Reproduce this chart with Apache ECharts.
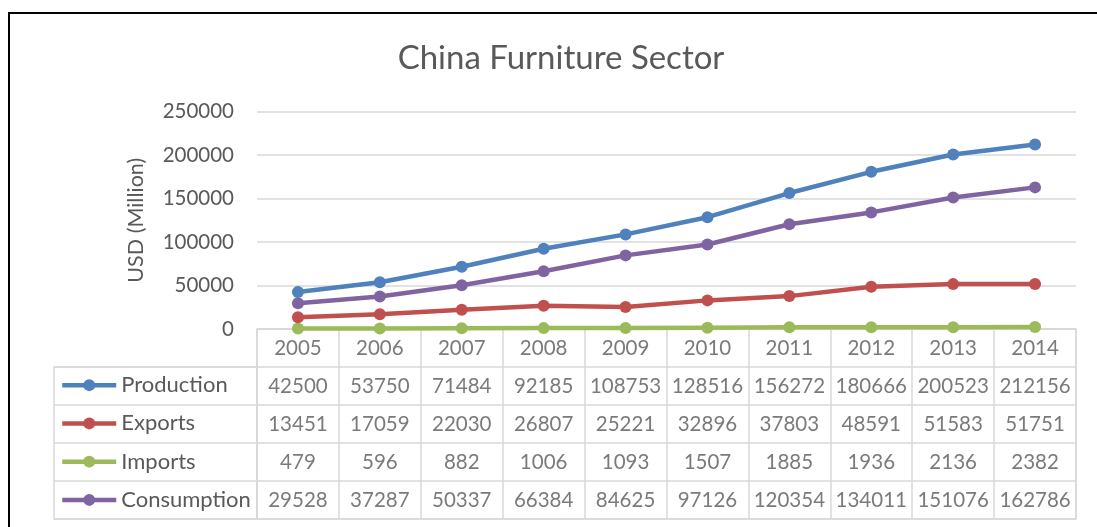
<!DOCTYPE html>
<html>
<head>
<meta charset="utf-8">
<script src="https://cdn.jsdelivr.net/npm/echarts@6/dist/echarts.min.js"></script>
<style>
  html, body { margin: 0; padding: 0; background: #fff; }
  #chart { width: 1097px; height: 527px; }
</style>
</head>
<body>
<div id="chart"></div>
<script>
// China furniture sector, USD million, 2005-2014
const years = ['2005', '2006', '2007', '2008', '2009', '2010', '2011', '2012', '2013', '2014'];
const production  = [42500, 53750, 71484, 92185, 108753, 128516, 156272, 180666, 200523, 212156];
const exportsData = [13451, 17059, 22030, 26807, 25221, 32896, 37803, 48591, 51583, 51751];
const importsData = [479, 596, 882, 1006, 1093, 1507, 1885, 1936, 2136, 2382];
const consumption = [29528, 37287, 50337, 66384, 84625, 97126, 120354, 134011, 151076, 162786];
const seriesNames = ['Production', 'Exports', 'Imports', 'Consumption'];
const yTicks = { min: 0, max: 250000, interval: 50000 };

const colors = ['#4F81BD', '#C0504D', '#9BBB59', '#8064A2'];
const textColor = '#595959';
const lineGray = '#D9D9D9';
const fontFamily = 'Lato, "Open Sans", sans-serif';

const valueSets = [production, exportsData, importsData, consumption];
const headerRow = 'Year';
const tableRows = [headerRow].concat(seriesNames);

// cells of the data table: header row with years, then one row per series
const cells = [];
years.forEach((y, i) => cells.push([i, headerRow, y]));
valueSets.forEach((vals, r) => {
  vals.forEach((v, i) => cells.push([i, seriesNames[r], v]));
});

const lineSeries = seriesNames.map((name, k) => ({
  name: name,
  type: 'line',
  xAxisIndex: 0,
  yAxisIndex: 0,
  data: valueSets[k],
  color: colors[k],
  symbol: 'circle',
  symbolSize: 12,
  lineStyle: { width: 4.5, color: colors[k] },
  itemStyle: { color: colors[k] },
  z: 10 - k
}));

const chart = echarts.init(document.getElementById('chart'), null, { renderer: 'canvas' });
chart.setOption({
  backgroundColor: '#fff',
  animation: false,
  textStyle: { fontFamily: fontFamily },
  title: {
    text: 'China Furniture Sector',
    left: 556,
    top: 37,
    textAlign: 'center',
    textStyle: { fontFamily: fontFamily, fontSize: 33, fontWeight: 'normal', color: textColor }
  },
  legend: {
    data: seriesNames,
    orient: 'vertical',
    left: 60,
    top: 366,
    padding: 0,
    itemWidth: 54,
    itemHeight: 15,
    itemGap: 0,
    selectedMode: false,
    lineStyle: { width: 4.5 },
    textStyle: { fontFamily: fontFamily, fontSize: 22, color: textColor, lineHeight: 38.25 }
  },
  grid: [
    // plot area
    { left: 257, top: 111.5, width: 819, height: 217.5, containLabel: false },
    // value cells of the table
    { left: 257, top: 329, width: 819, height: 190, show: true, borderColor: lineGray, borderWidth: 1.5 },
    // series-name column of the table
    { left: 54, top: 367, width: 203, height: 152, show: true, borderColor: lineGray, borderWidth: 1.5 }
  ],
  xAxis: [
    {
      gridIndex: 0, type: 'category', data: years, boundaryGap: true,
      axisLine: { show: false }, axisTick: { show: false }, axisLabel: { show: false }, splitLine: { show: false }
    },
    {
      gridIndex: 1, type: 'category', data: years, boundaryGap: true,
      axisLine: { show: false }, axisTick: { show: false }, axisLabel: { show: false },
      splitLine: { show: true, lineStyle: { color: lineGray, width: 1.5 } }
    },
    {
      gridIndex: 2, type: 'category', data: [''], boundaryGap: true,
      axisLine: { show: false }, axisTick: { show: false }, axisLabel: { show: false }, splitLine: { show: false }
    }
  ],
  yAxis: [
    {
      gridIndex: 0, type: 'value', min: yTicks.min, max: yTicks.max, interval: yTicks.interval,
      name: 'USD (Million)', nameLocation: 'middle', nameGap: 110, nameRotate: 90,
      nameTextStyle: { fontFamily: fontFamily, fontSize: 21.5, color: textColor },
      axisLine: { show: false }, axisTick: { show: false },
      axisLabel: { fontFamily: fontFamily, fontSize: 20.5, color: textColor, margin: 23, formatter: v => String(v) },
      splitLine: { show: true, lineStyle: { color: lineGray, width: 1.5 } }
    },
    {
      gridIndex: 1, type: 'category', data: tableRows, inverse: true, boundaryGap: true,
      axisLine: { show: false }, axisTick: { show: false }, axisLabel: { show: false },
      splitLine: { show: true, lineStyle: { color: lineGray, width: 1.5 } }
    },
    {
      gridIndex: 2, type: 'category', data: seriesNames, inverse: true, boundaryGap: true,
      axisLine: { show: false }, axisTick: { show: false }, axisLabel: { show: false },
      splitLine: { show: true, lineStyle: { color: lineGray, width: 1.5 } }
    }
  ],
  series: lineSeries.concat([
    {
      name: 'table',
      type: 'scatter',
      xAxisIndex: 1,
      yAxisIndex: 1,
      data: cells,
      symbolSize: 1,
      itemStyle: { color: 'rgba(0,0,0,0)' },
      encode: { x: 0, y: 1 },
      silent: true,
      label: {
        show: true,
        position: 'inside',
        formatter: p => String(p.value[2]),
        fontFamily: fontFamily,
        fontSize: 20.5,
        color: textColor
      }
    }
  ]),
  graphic: [
    {
      type: 'rect',
      shape: { x: 9, y: 13, width: 1200, height: 700 },
      style: { fill: 'none', stroke: '#000', lineWidth: 2 },
      silent: true,
      z: 100
    }
  ]
});
</script>
</body>
</html>
